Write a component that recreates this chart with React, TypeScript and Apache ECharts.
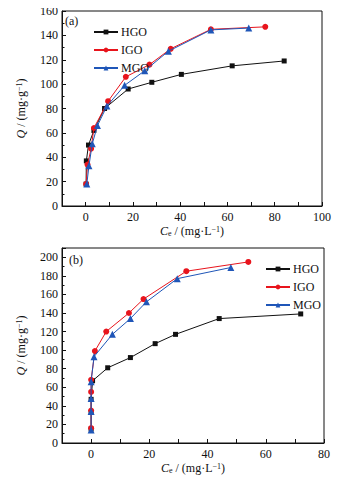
import React, { useEffect, useRef } from "react";
import * as echarts from "echarts";

const seriesNames = ["HGO", "IGO", "MGO"];
const colors = ["#111111", "#e8141c", "#1f56b8"];
const symbols = ["rect", "circle", "triangle"];
const symbolSizes = [5, 6, 7];

// Panel (a)
const aHGO: number[][] = [[0.2, 18], [0.3, 37], [1.2, 50], [3.5, 62], [8, 80], [18, 96], [28, 101.5], [40.5, 108], [62, 115], [84, 119]];
const aIGO: number[][] = [[0.2, 18], [0.8, 34], [2.3, 47], [3.5, 64], [9.5, 86], [17, 106], [27, 116], [36, 129], [53, 145], [76, 147]];
const aMGO: number[][] = [[0.5, 18], [1.4, 33], [2.8, 51], [5, 66], [9, 82], [16.5, 99], [25, 111], [35, 127], [53, 144.5], [69, 146]];

// Panel (b)
const bHGO: number[][] = [[0, 15], [0, 33], [0, 47], [0.5, 67], [5.7, 81], [13.5, 92], [22, 107], [29, 117], [44, 134], [72, 139]];
const bIGO: number[][] = [[0, 16], [0, 35], [0, 55], [0, 68], [1.3, 99], [5.2, 120], [13, 140], [18, 155], [32.7, 185], [54, 195]];
const bMGO: number[][] = [[0, 14], [0, 34], [0, 48], [0, 66], [1, 93], [7.3, 117], [13.5, 134], [19, 152], [29.6, 177], [48, 189]];

const FONT = "'Liberation Serif', 'Times New Roman', serif";

const nameRich = {
  i: { fontStyle: "italic", fontSize: 12, fontFamily: FONT, color: "#111" },
  n: { fontSize: 12, fontFamily: FONT, color: "#111" },
  sub: { fontSize: 8, fontFamily: FONT, color: "#111", verticalAlign: "bottom" },
  sup: { fontSize: 8, fontFamily: FONT, color: "#111", verticalAlign: "top" },
};

const xName = "{i|C}{sub|e}{n| / (mg·L}{sup|−1}{n|)}";
const yName = "{i|Q}{n| / (mg·g}{sup|−1}{n|)}";

function makeX(gridIndex: number, max: number) {
  return {
    type: "value",
    gridIndex,
    min: -10,
    max,
    interval: 10,
    name: xName,
    nameLocation: "middle",
    nameGap: 19,
    nameTextStyle: { rich: nameRich },
    axisLine: { show: true, onZero: false, lineStyle: { color: "#111", width: 1 } },
    axisTick: { show: true, inside: true, length: 4, lineStyle: { color: "#111" } },
    axisLabel: {
      color: "#111",
      fontSize: 12,
      fontFamily: FONT,
      margin: 5,
      formatter: (v: number) => (v % 20 === 0 && v >= 0 ? String(v) : ""),
    },
    splitLine: { show: false },
  };
}

function makeY(gridIndex: number, max: number) {
  return {
    type: "value",
    gridIndex,
    min: 0,
    max,
    interval: 20,
    name: yName,
    nameLocation: "middle",
    nameGap: 35,
    nameTextStyle: { rich: nameRich },
    axisLine: { show: true, onZero: false, lineStyle: { color: "#111", width: 1 } },
    axisTick: { show: true, inside: true, length: 4, lineStyle: { color: "#111" } },
    minorTick: { show: true, splitNumber: 2, length: 2.5, lineStyle: { color: "#111" } },
    axisLabel: {
      color: "#111",
      fontSize: 12,
      fontFamily: FONT,
      margin: 4,
      formatter: (v: number) => (v % 20 === 0 ? String(v) : ""),
    },
    splitLine: { show: false },
  };
}

function makeSeries(idx: number, data: number[][], axisIndex: number) {
  return {
    type: "line",
    name: seriesNames[idx],
    xAxisIndex: axisIndex,
    yAxisIndex: axisIndex,
    data,
    symbol: symbols[idx],
    symbolSize: symbolSizes[idx],
    showAllSymbol: true,
    lineStyle: { color: colors[idx], width: 1 },
    itemStyle: { color: colors[idx] },
    z: 2 + idx,
  };
}

export default function App() {
  const ref = useRef<HTMLDivElement>(null);
  useEffect(() => {
    if (!ref.current) return;
    const chart = echarts.init(ref.current, null, { renderer: "svg" });
    const legendCommon = {
      orient: "vertical",
      itemWidth: 24,
      itemHeight: 6,
      itemGap: 6,
      textStyle: { fontSize: 12, fontFamily: FONT, color: "#111", padding: [0, 0, 0, -2] },
      data: seriesNames,
      selectedMode: false,
    };
    chart.setOption({
      animation: false,
      backgroundColor: "#ffffff",
      textStyle: { fontFamily: FONT },
      grid: [
        { left: 62, top: 11, right: 22, height: 195, show: true, borderColor: "#111", borderWidth: 1, backgroundColor: "transparent" },
        { left: 62, top: 248, right: 20, height: 195, show: true, borderColor: "#111", borderWidth: 1, backgroundColor: "transparent" },
      ],
      legend: [
        { ...legendCommon, left: 88, top: 21 },
        { ...legendCommon, left: 260, top: 258 },
      ],
      xAxis: [makeX(0, 100), makeX(1, 80)],
      yAxis: [makeY(0, 160), makeY(1, 210)],
      series: [
        makeSeries(0, aHGO, 0),
        makeSeries(1, aIGO, 0),
        makeSeries(2, aMGO, 0),
        makeSeries(0, bHGO, 1),
        makeSeries(1, bIGO, 1),
        makeSeries(2, bMGO, 1),
      ],
      graphic: [
        { type: "text", left: 65, top: 15, style: { text: "(a)", fontSize: 12, fontFamily: FONT, fill: "#111" } },
        { type: "text", left: 69, top: 254, style: { text: "(b)", fontSize: 12, fontFamily: FONT, fill: "#111" } },
      ],
    });
    return () => chart.dispose();
  }, []);
  return <div ref={ref} style={{ width: 344, height: 483, margin: -8 }} />;
}
